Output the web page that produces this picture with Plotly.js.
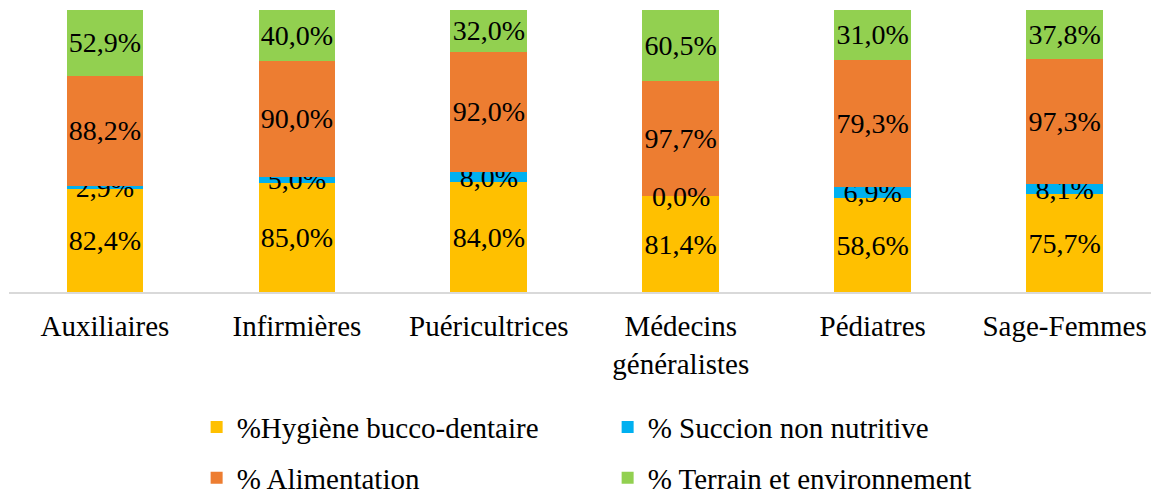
<!DOCTYPE html>
<html>
<head>
<meta charset="utf-8">
<script src="https://cdn.plot.ly/plotly-3.0.1.min.js"></script>
<style>
html,body{margin:0;padding:0;overflow:hidden;background:#fff;}
#chart{width:1151px;height:494px;}
</style>
</head>
<body>
<div id="chart"></div>
<script>
var categories = ["Auxiliaires", "Infirmières", "Puéricultrices", "Médecins<br>généralistes", "Pédiatres", "Sage-Femmes"];
var hygiene = [82.4, 85.0, 84.0, 81.4, 58.6, 75.7];
var succion = [2.9, 5.0, 8.0, 0.0, 6.9, 8.1];
var alimentation = [88.2, 90.0, 92.0, 97.7, 79.3, 97.3];
var terrain = [52.9, 40.0, 32.0, 60.5, 31.0, 37.8];

var seriesNames = ["%Hygiène bucco-dentaire", "% Succion non nutritive", "% Alimentation", "% Terrain et environnement"];
var seriesColors = ["#FFC000", "#00B0F0", "#ED7D31", "#92D050"];
var seriesLegends = ["legend", "legend", "legend2", "legend2"];
var seriesValues = [hygiene, succion, alimentation, terrain];

function fmt(v){ return v.toFixed(1).replace('.', ',') + '%'; }

var FONT = "Liberation Serif";

var traces = seriesValues.map(function(vals, i){
  return {
    type: 'bar',
    name: seriesNames[i],
    x: categories,
    y: vals,
    text: vals.map(fmt),
    textposition: 'inside',
    insidetextanchor: 'middle',
    textangle: 0,
    constraintext: 'none',
    cliponaxis: false,
    textfont: {family: FONT, size: 28, color: '#000'},
    marker: {color: seriesColors[i], line: {width: 0}},
    legend: seriesLegends[i],
    hoverinfo: 'skip'
  };
});

// labels for zero-height segments (Plotly does not draw text on empty bars)
var annotations = [];
categories.forEach(function(cat, c){
  var total = 0;
  seriesValues.forEach(function(s){ total += s[c]; });
  var base = 0;
  seriesValues.forEach(function(s){
    if (s[c] === 0) {
      annotations.push({
        x: cat, y: (base + s[c] / 2) / total * 100,
        xref: 'x', yref: 'y',
        text: fmt(s[c]), showarrow: false,
        xanchor: 'center', yanchor: 'middle',
        font: {family: FONT, size: 28, color: '#000'}
      });
    }
    base += s[c];
  });
});

var layout = {
  width: 1151,
  height: 494,
  barmode: 'stack',
  barnorm: 'percent',
  bargap: 0.6,
  paper_bgcolor: '#fff',
  plot_bgcolor: '#fff',
  margin: {l: 8.5, r: 0, t: 10, b: 202, autoexpand: false},
  font: {family: FONT, size: 29, color: '#000'},
  showlegend: true,
  annotations: annotations,
  xaxis: {
    type: 'category',
    range: [-0.5, 5.45],
    showline: true,
    linecolor: '#d9d9d9',
    linewidth: 2,
    ticks: '',
    ticklabelstandoff: 7,
    showgrid: false,
    zeroline: false,
    tickfont: {family: FONT, size: 29, color: '#000'},
    fixedrange: true
  },
  yaxis: {
    range: [0, 100],
    visible: false,
    showgrid: false,
    zeroline: false,
    fixedrange: true
  },
  legend: {
    orientation: 'h',
    x: 0.1643, xanchor: 'left',
    y: -0.479, yanchor: 'middle',
    traceorder: 'normal',
    entrywidth: 366, entrywidthmode: 'pixels',
    font: {family: FONT, size: 29, color: '#000'},
    bgcolor: 'rgba(0,0,0,0)'
  },
  legend2: {
    orientation: 'h',
    x: 0.1643, xanchor: 'left',
    y: -0.659, yanchor: 'middle',
    traceorder: 'normal',
    entrywidth: 366, entrywidthmode: 'pixels',
    font: {family: FONT, size: 29, color: '#000'},
    bgcolor: 'rgba(0,0,0,0)'
  }
};

Plotly.newPlot('chart', traces, layout, {displayModeBar: false, staticPlot: true});
</script>
</body>
</html>
